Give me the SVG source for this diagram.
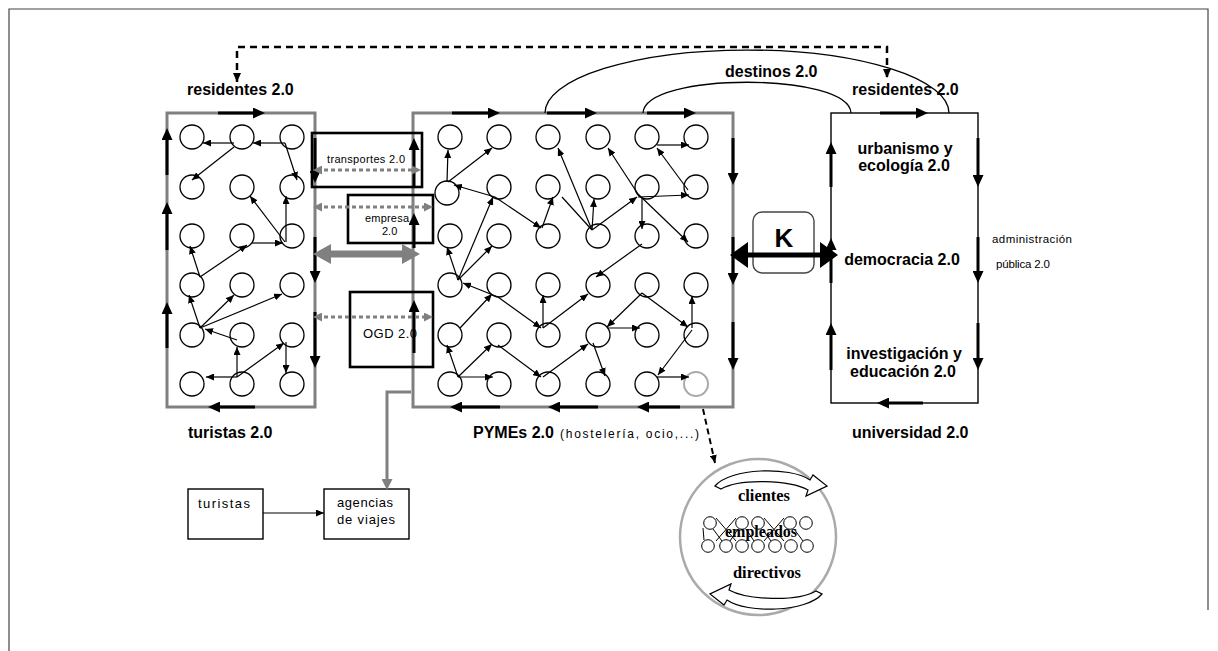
<svg xmlns="http://www.w3.org/2000/svg" width="1218" height="651" viewBox="0 0 1218 651">
<defs>
<style>
.gbox{fill:none;stroke:#808080;stroke-width:3}
.bbox{fill:none;stroke:#000;stroke-width:2.6}
.tbox{fill:none;stroke:#000;stroke-width:1.4}
.nd circle{fill:none;stroke:#000;stroke-width:1.3}
.lk line{stroke:#000;stroke-width:1.2;marker-end:url(#ah)}
.fl line{stroke:#000;stroke-width:3;marker-end:url(#fh)}
.gd line{stroke:#808080;stroke-width:3;stroke-dasharray:4 3;marker-start:url(#gh);marker-end:url(#gh)}
.lb{font-family:"Liberation Sans",Arial,sans-serif;font-weight:bold;font-size:16px;fill:#000}
.sm{font-family:"Liberation Sans",Arial,sans-serif;fill:#000}
.sf{font-family:"Liberation Serif","Times New Roman",serif;font-weight:bold;font-size:16px;fill:#000}
</style>
<marker id="ah" viewBox="0 0 8 7" markerUnits="userSpaceOnUse" markerWidth="8" markerHeight="7" refX="8" refY="3.5" orient="auto"><path d="M0,0L8,3.5L0,7z"/></marker>
<marker id="fh" viewBox="0 0 12 11" markerUnits="userSpaceOnUse" markerWidth="12" markerHeight="11" refX="6" refY="5.5" orient="auto"><path d="M0,0L12,5.5L0,11z"/></marker>
<marker id="gh" viewBox="0 0 9 9" markerUnits="userSpaceOnUse" markerWidth="9" markerHeight="9" refX="5" refY="4.5" orient="auto-start-reverse"><path d="M0,0L9,4.5L0,9z" fill="#808080"/></marker>
<marker id="gv" viewBox="0 0 11 11" markerUnits="userSpaceOnUse" markerWidth="11" markerHeight="11" refX="3" refY="5.5" orient="auto"><path d="M0,0L11,5.5L0,11z" fill="#808080"/></marker>
<marker id="dh" viewBox="0 0 9 8" markerUnits="userSpaceOnUse" markerWidth="9" markerHeight="8" refX="9" refY="4" orient="auto-start-reverse"><path d="M0,0L9,4L0,8z"/></marker>
</defs>
<rect width="1218" height="651" fill="#fff"/>
<g id="frame" fill="none" stroke="#444" stroke-width="1.2"><path d="M9,651V9H1208V610"/></g>

<g id="turistas-2-0">
<rect class="gbox" x="167" y="113" width="148" height="294"/>
<g class="nd">
<circle cx="192" cy="137" r="12"/><circle cx="242" cy="137" r="12"/><circle cx="292" cy="137" r="12"/>
<circle cx="192" cy="187" r="12"/><circle cx="242" cy="187" r="12"/><circle cx="292" cy="187" r="12"/>
<circle cx="192" cy="236" r="12"/><circle cx="242" cy="236" r="12"/><circle cx="292" cy="236" r="12"/>
<circle cx="192" cy="285" r="12"/><circle cx="242" cy="285" r="12"/><circle cx="292" cy="285" r="12"/>
<circle cx="192" cy="335" r="12"/><circle cx="242" cy="335" r="12"/><circle cx="292" cy="335" r="12"/>
<circle cx="192" cy="384" r="12"/><circle cx="242" cy="384" r="12"/><circle cx="292" cy="384" r="12"/>
</g>
</g>

<g id="pymes-2-0">
<rect class="gbox" x="413" y="113" width="320" height="294"/>
<g class="nd">
<circle cx="450" cy="137" r="12"/><circle cx="499" cy="137" r="12"/><circle cx="548" cy="137" r="12"/><circle cx="598" cy="137" r="12"/><circle cx="647" cy="137" r="12"/><circle cx="696" cy="137" r="12"/>
<circle cx="447" cy="193" r="12"/><circle cx="499" cy="187" r="12"/><circle cx="548" cy="187" r="12"/><circle cx="598" cy="187" r="12"/><circle cx="647" cy="187" r="12"/><circle cx="696" cy="187" r="12"/>
<circle cx="450" cy="236" r="12"/><circle cx="499" cy="236" r="12"/><circle cx="548" cy="236" r="12"/><circle cx="598" cy="236" r="12"/><circle cx="647" cy="236" r="12"/><circle cx="696" cy="236" r="12"/>
<circle cx="450" cy="285" r="12"/><circle cx="499" cy="285" r="12"/><circle cx="548" cy="285" r="12"/><circle cx="598" cy="285" r="12"/><circle cx="647" cy="285" r="12"/><circle cx="696" cy="285" r="12"/>
<circle cx="450" cy="335" r="12"/><circle cx="499" cy="335" r="12"/><circle cx="548" cy="335" r="12"/><circle cx="598" cy="335" r="12"/><circle cx="647" cy="335" r="12"/><circle cx="696" cy="335" r="12"/>
<circle cx="450" cy="384" r="12"/><circle cx="499" cy="384" r="12"/><circle cx="548" cy="384" r="12"/><circle cx="598" cy="384" r="12"/><circle cx="647" cy="384" r="12"/>
</g>
<circle cx="696" cy="384" r="12" fill="none" stroke="#aaa" stroke-width="2"/>
</g>

<g id="transportes-2-0">
<rect class="bbox" x="312" y="133" width="110" height="54"/>
<text class="sm" x="327" y="163" style="font-size:11px" textLength="78" lengthAdjust="spacing">transportes 2.0</text>
</g>
<g id="empresa-2-0">
<rect class="bbox" x="348" y="195" width="85" height="48"/>
<text class="sm" x="365" y="222" style="font-size:11px" textLength="44" lengthAdjust="spacing">empresa</text>
<text class="sm" x="382" y="235" style="font-size:11px">2.0</text>
</g>
<g id="ogd-2-0">
<rect class="bbox" x="350" y="292" width="83" height="75"/>
<text class="sm" x="363" y="338" style="font-size:13px" textLength="54" lengthAdjust="spacing">OGD 2.0</text>
</g>

<g id="universidad-2-0">
<rect class="tbox" x="831" y="113" width="147" height="290"/>
<text class="lb" x="905" y="154" text-anchor="middle">urbanismo y</text>
<text class="lb" x="904" y="171" text-anchor="middle">ecología 2.0</text>
<text class="lb" x="902" y="265" text-anchor="middle">democracia 2.0</text>
<text class="lb" x="904" y="359" text-anchor="middle">investigación y</text>
<text class="lb" x="903" y="377" text-anchor="middle">educación 2.0</text>
</g>

<g id="k">
<rect x="753" y="212" width="61" height="61" rx="9" fill="none" stroke="#444" stroke-width="1.4"/>
<text x="784" y="247" text-anchor="middle" font-family="Liberation Sans, Arial, sans-serif" font-weight="bold" font-size="26">K</text>
</g>

<g id="turistas">
<rect class="tbox" x="188" y="489" width="75" height="50"/>
<text class="sm" x="198" y="508" style="font-size:13px" textLength="52" lengthAdjust="spacing">turistas</text>
</g>
<g id="agencias-de-viajes">
<rect class="tbox" x="324" y="489" width="85" height="50"/>
<text class="sm" x="337" y="507" style="font-size:13px" textLength="56" lengthAdjust="spacing">agencias</text>
<text class="sm" x="337" y="524" style="font-size:13px" textLength="58" lengthAdjust="spacing">de viajes</text>
</g>

<g id="pyme-detalle">
<circle cx="758" cy="537" r="78" fill="none" stroke="#aaa" stroke-width="2.5"/>
<path d="M715,486C730,468 790,466 810,480L813,475L827,486L806,496L808,490C790,480 740,478 721,489Z" fill="#fff" stroke="#000" stroke-width="1.2"/>
<path d="M715,486C730,468 790,466 810,480L813,475L827,486L806,496L808,490C790,480 740,478 721,489Z" fill="#fff" stroke="#000" stroke-width="1.2" transform="translate(-5,118) rotate(180,771,481)"/>
<g fill="none" stroke="#000" stroke-width="1">
<circle cx="710" cy="523" r="6.3"/><circle cx="742" cy="523" r="6.3"/><circle cx="758" cy="523" r="6.3"/><circle cx="790" cy="523" r="6.3"/><circle cx="806" cy="523" r="6.3"/>
<circle cx="708" cy="546" r="6.3"/><circle cx="726" cy="546" r="6.3"/><circle cx="742" cy="546" r="6.3"/><circle cx="758" cy="546" r="6.3"/><circle cx="775" cy="546" r="6.3"/><circle cx="791" cy="546" r="6.3"/><circle cx="807" cy="546" r="6.3"/>
<path d="M716,518L736,541M716,541L736,518M764,518L784,541M764,541L784,518M713,529L722,541M738,529L730,541M762,529L771,541M794,529L803,541M746,529L754,541M703,528L704,540"/>
</g>
<text class="sf" x="764" y="501" text-anchor="middle" textLength="52" lengthAdjust="spacingAndGlyphs">clientes</text>
<text class="sf" x="761" y="537" text-anchor="middle" textLength="72" lengthAdjust="spacingAndGlyphs">empleados</text>
<text class="sf" x="767" y="578" text-anchor="middle" textLength="68" lengthAdjust="spacingAndGlyphs">directivos</text>
</g>

<g id="labels">
<text class="lb" x="187" y="95">residentes 2.0</text>
<text class="lb" x="725" y="77">destinos 2.0</text>
<text class="lb" x="852" y="95">residentes 2.0</text>
<text class="lb" x="188" y="438">turistas 2.0</text>
<text class="lb" x="473" y="438">PYMEs 2.0</text>
<text class="sm" x="560" y="438" style="font-size:12px" textLength="139" lengthAdjust="spacing">(hostelería, ocio,...)</text>
<text class="lb" x="852" y="438">universidad 2.0</text>
<text class="sm" x="992" y="243" style="font-size:11.5px" textLength="80" lengthAdjust="spacing">administración</text>
<text class="sm" x="996" y="268" style="font-size:11.5px" textLength="54" lengthAdjust="spacing">pública 2.0</text>
</g>

<g id="connectors">
<path d="M545,113A202,63 0 0 1 949,113" fill="none" stroke="#000" stroke-width="1.3"/>
<path d="M643,113C645,72 849,72 851,113" fill="none" stroke="#000" stroke-width="1.3"/>
<path d="M237,82V47H887V78" fill="none" stroke="#000" stroke-width="2.5" stroke-dasharray="7 5" marker-start="url(#dh)" marker-end="url(#dh)"/>

<g class="fl">
<line x1="218" y1="113" x2="259" y2="113"/>
<line x1="167" y1="175" x2="167" y2="134"/>
<line x1="167" y1="250" x2="167" y2="208"/>
<line x1="167" y1="348" x2="167" y2="308"/>
<line x1="315" y1="138" x2="315" y2="177"/>
<line x1="315" y1="237" x2="315" y2="277"/>
<line x1="315" y1="312" x2="315" y2="362"/>
<line x1="255" y1="407" x2="214" y2="407"/>
<line x1="452" y1="113" x2="494" y2="113"/>
<line x1="547" y1="113" x2="591" y2="113"/>
<line x1="647" y1="113" x2="690" y2="113"/>
<line x1="414" y1="187" x2="414" y2="144"/>
<line x1="414" y1="248" x2="414" y2="219"/>
<line x1="414" y1="353" x2="414" y2="306"/>
<line x1="733" y1="138" x2="733" y2="179"/>
<line x1="733" y1="237" x2="733" y2="279"/>
<line x1="733" y1="322" x2="733" y2="364"/>
<line x1="500" y1="407" x2="456" y2="407"/>
<line x1="598" y1="407" x2="554" y2="407"/>
<line x1="680" y1="407" x2="643" y2="407"/>
<line x1="880" y1="113" x2="922" y2="113"/>
<line x1="831" y1="187" x2="831" y2="148"/>
<line x1="831" y1="283" x2="831" y2="244"/>
<line x1="831" y1="370" x2="831" y2="329"/>
<line x1="978" y1="138" x2="978" y2="181"/>
<line x1="978" y1="237" x2="978" y2="277"/>
<line x1="978" y1="323" x2="978" y2="364"/>
<line x1="923" y1="403" x2="883" y2="403"/>
</g>

<g class="gd">
<line x1="317" y1="170" x2="417" y2="170"/>
<line x1="317" y1="207" x2="429" y2="207"/>
<line x1="317" y1="317" x2="429" y2="317"/>
</g>
<path d="M313,254L331,244L331,250.5L402,250.5L402,244L420,254L402,264L402,257.5L331,257.5L331,264Z" fill="#808080"/>
<path d="M730,255L748,242L748,252.5L820,252.5L820,242L838,255L820,268L820,257.5L748,257.5L748,268Z" fill="#000"/>

<polyline points="411,392 387,392 387,482" fill="none" stroke="#808080" stroke-width="3" marker-end="url(#gv)"/>

<g class="lk">
<line x1="263" y1="513" x2="324" y2="513"/>
<line x1="285" y1="143" x2="253" y2="143"/>
<line x1="234" y1="143" x2="203" y2="143"/>
<line x1="234" y1="147" x2="192" y2="180"/>
<line x1="285" y1="143" x2="297" y2="180"/>
<line x1="285" y1="242" x2="250" y2="196"/>
<line x1="286" y1="242" x2="286" y2="196"/>
<line x1="200" y1="277" x2="247" y2="245"/>
<line x1="252" y1="243" x2="283" y2="243"/>
<line x1="200" y1="277" x2="190" y2="246"/>
<line x1="200" y1="328" x2="189" y2="295"/>
<line x1="200" y1="328" x2="234" y2="295"/>
<line x1="200" y1="328" x2="282" y2="294"/>
<line x1="237" y1="340" x2="205" y2="329"/>
<line x1="237" y1="377" x2="237" y2="347"/>
<line x1="237" y1="377" x2="206" y2="377"/>
<line x1="237" y1="377" x2="284" y2="343"/>
<line x1="286" y1="342" x2="286" y2="373"/>

<line x1="447" y1="182" x2="448" y2="150"/>
<line x1="448" y1="182" x2="492" y2="148"/>
<line x1="495" y1="197" x2="454" y2="185"/>
<line x1="495" y1="197" x2="541" y2="228"/>
<line x1="542" y1="228" x2="553" y2="197"/>
<line x1="458" y1="280" x2="493" y2="197"/>
<line x1="458" y1="280" x2="447" y2="247"/>
<line x1="458" y1="280" x2="492" y2="246"/>
<line x1="498" y1="297" x2="463" y2="283"/>
<line x1="498" y1="297" x2="541" y2="328"/>
<line x1="460" y1="328" x2="492" y2="294"/>
<line x1="543" y1="328" x2="543" y2="295"/>
<line x1="543" y1="328" x2="588" y2="294"/>
<line x1="458" y1="377" x2="447" y2="345"/>
<line x1="458" y1="377" x2="492" y2="344"/>
<line x1="458" y1="377" x2="493" y2="377"/>
<line x1="498" y1="345" x2="541" y2="377"/>
<line x1="543" y1="377" x2="588" y2="344"/>
<line x1="592" y1="230" x2="558" y2="148"/>
<line x1="592" y1="230" x2="594" y2="199"/>
<line x1="592" y1="230" x2="637" y2="197"/>
<line x1="638" y1="197" x2="689" y2="195"/>
<line x1="642" y1="197" x2="642" y2="229"/>
<line x1="638" y1="194" x2="608" y2="148"/>
<line x1="638" y1="194" x2="688" y2="242"/>
<line x1="688" y1="190" x2="657" y2="148"/>
<line x1="657" y1="145" x2="689" y2="145"/>
<line x1="642" y1="244" x2="596" y2="277"/>
<line x1="642" y1="293" x2="607" y2="327"/>
<line x1="642" y1="293" x2="688" y2="327"/>
<line x1="607" y1="328" x2="640" y2="328"/>
<line x1="692" y1="328" x2="692" y2="296"/>
<line x1="692" y1="330" x2="658" y2="375"/>
<line x1="657" y1="377" x2="689" y2="377"/>
<line x1="593" y1="343" x2="605" y2="376"/>
</g>
<line x1="562" y1="197" x2="592" y2="230" stroke="#000" stroke-width="1.2"/>
<line x1="703" y1="409" x2="715" y2="463" stroke="#000" stroke-width="2" stroke-dasharray="6 4" marker-end="url(#ah)"/>
</g>
</svg>
